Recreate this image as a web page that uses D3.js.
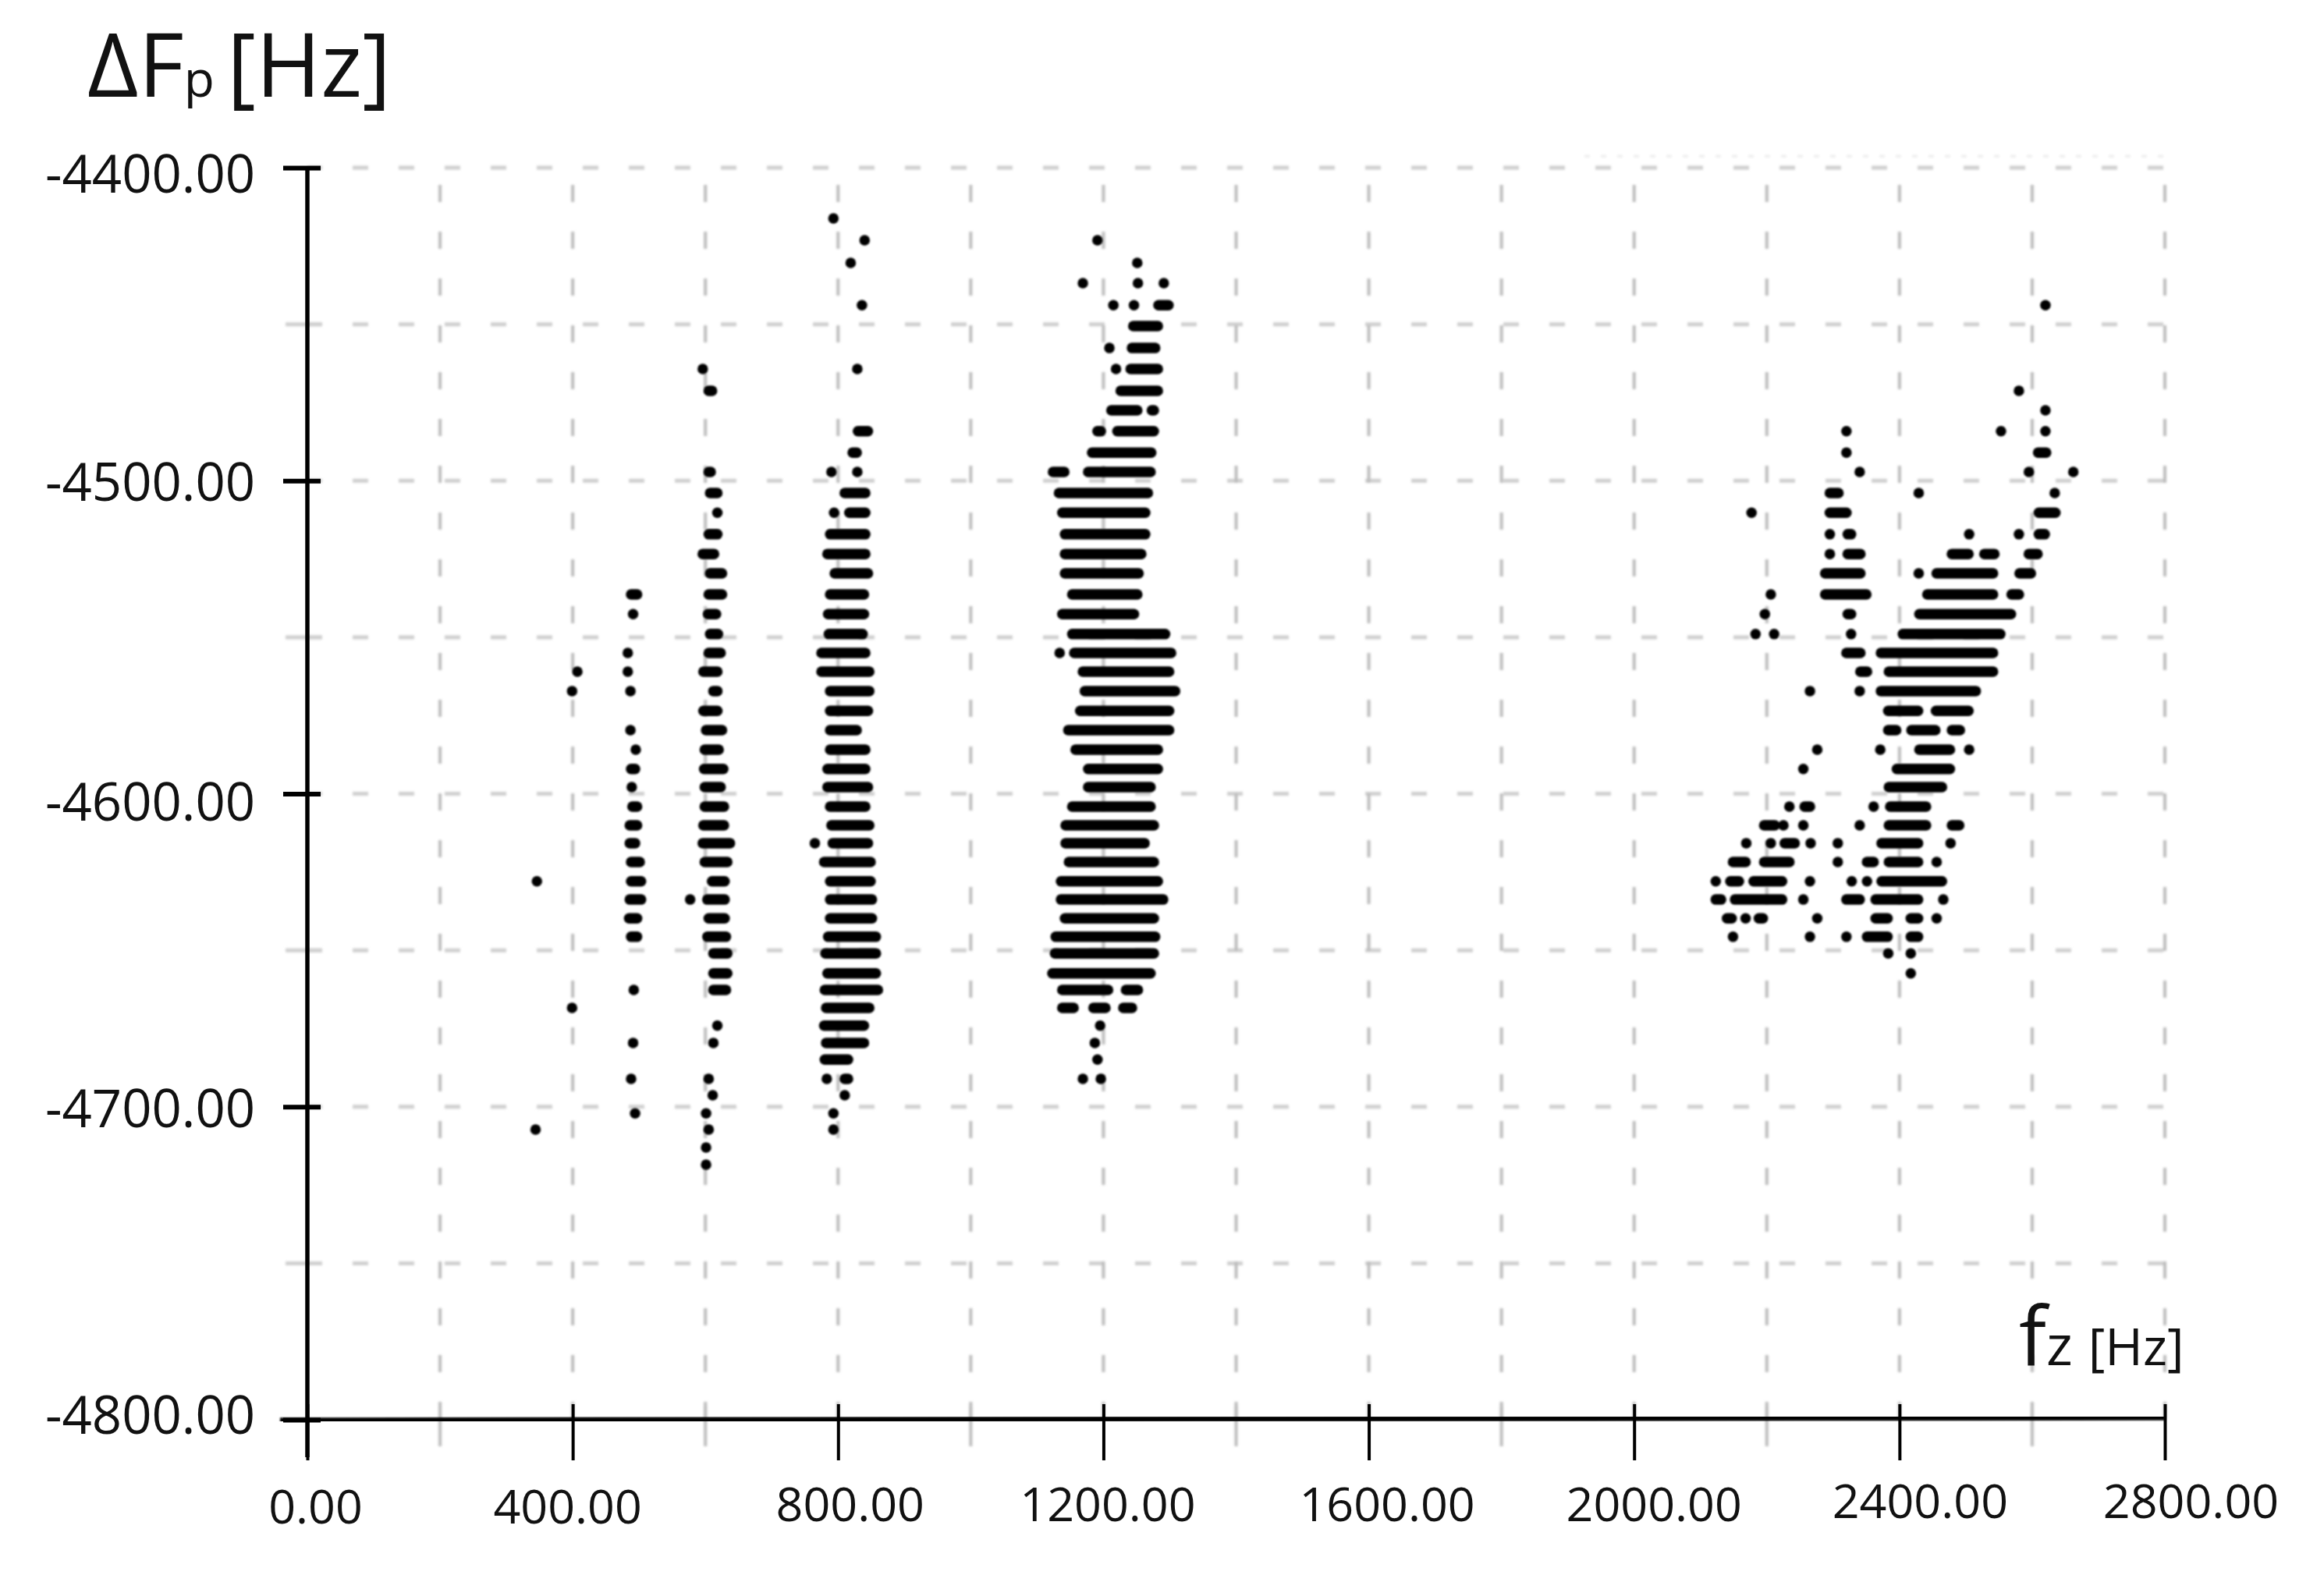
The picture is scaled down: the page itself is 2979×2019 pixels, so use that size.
<!DOCTYPE html>
<html>
<head>
<meta charset="utf-8">
<script src="https://cdnjs.cloudflare.com/ajax/libs/d3/7.8.5/d3.min.js"></script>
<style>
  html, body { margin: 0; padding: 0; background: #fff; }
  text { font-family: "Open Sans", sans-serif; fill: #111; }
</style>
</head>
<body>
<svg class="chart"></svg>
<script>
var width = 2979;
var height = 2019;

//tick values
var xTicks = [0, 400, 800, 1200, 1600, 2000, 2400, 2800];
var xMinor = [200, 600, 1000, 1400, 1800, 2200, 2600];
var yTicks = [-4400, -4500, -4600, -4700, -4800];
var yMinor = [-4450, -4550, -4650, -4750];

// each row: [delta Fp, run, run, ...], a run is [from, to] in fz or [fz] for a lone dot
var col350 = [
  [-4561.0, [407]], [-4567.2, [399]], [-4628.0, [346]], [-4668.4, [399]], [-4707.3, [344]]
];

var col490 = [
  [-4536.3, [488, 497]], [-4542.6, [491]], [-4555.0, [483]], [-4561.0, [483]], [-4567.2, [487]],
  [-4579.7, [487]], [-4585.9, [495]], [-4592.1, [488, 494]], [-4597.9, [489]], [-4604.1, [490, 497]],
  [-4610.1, [486, 497]], [-4615.8, [486, 494]], [-4621.8, [488, 501]], [-4628.0, [488, 503]],
  [-4633.8, [486, 503]], [-4639.8, [485, 497]], [-4645.7, [488, 497]], [-4662.7, [492]],
  [-4679.6, [491]], [-4691.1, [488]], [-4702.1, [494]]
];

var col600 = [
  [-4464.3, [596]], [-4471.3, [605, 610]], [-4497.2, [605, 608]], [-4503.9, [607, 618]], [-4510.2, [618]],
  [-4517.1, [605, 618]], [-4523.4, [596, 613]], [-4529.6, [607, 625]], [-4536.3, [605, 625]],
  [-4542.6, [604, 616]], [-4549.0, [607, 619]], [-4555.0, [605, 623]], [-4561.0, [597, 618]],
  [-4567.2, [612, 618]], [-4573.5, [597, 618]], [-4579.7, [601, 625]], [-4585.9, [599, 620]],
  [-4592.1, [598, 627]], [-4597.9, [599, 623]], [-4604.1, [599, 628]], [-4610.1, [597, 628]],
  [-4615.8, [596, 637]], [-4621.8, [599, 633]], [-4628.0, [610, 629]], [-4633.8, [577], [603, 629]],
  [-4639.8, [605, 629]], [-4645.7, [603, 631]], [-4651.0, [612, 633]], [-4657.4, [612, 633]],
  [-4662.7, [612, 631]], [-4674.1, [618]], [-4679.6, [612]], [-4691.1, [605]], [-4696.3, [611]],
  [-4702.1, [601]], [-4707.3, [605]], [-4713.0, [601]], [-4718.5, [601]]
];

var col800 = [
  [-4416.2, [793]], [-4423.2, [840]], [-4430.4, [819]], [-4443.9, [836]], [-4464.3, [829]],
  [-4484.2, [830, 845]], [-4491.0, [822, 828]], [-4497.2, [790], [829]], [-4503.9, [810, 841]],
  [-4510.2, [794], [817, 841]], [-4517.1, [788, 841]], [-4523.4, [784, 841]], [-4529.6, [795, 845]],
  [-4536.3, [788, 839]], [-4542.6, [785, 839]], [-4549.0, [786, 837]], [-4555.0, [775, 841]],
  [-4561.0, [775, 847]], [-4567.2, [788, 847]], [-4573.5, [788, 845]], [-4579.7, [788, 828]],
  [-4585.9, [788, 841]], [-4592.1, [784, 841]], [-4597.9, [784, 845]], [-4604.1, [788, 841]],
  [-4610.1, [790, 847]], [-4615.8, [765], [792, 845]], [-4621.8, [779, 849]], [-4628.0, [788, 849]],
  [-4633.8, [788, 851]], [-4639.8, [788, 851]], [-4645.7, [785, 857]], [-4651.0, [781, 857]],
  [-4657.4, [784, 857]], [-4662.7, [780, 860]], [-4668.4, [782, 847]], [-4674.1, [779, 839]],
  [-4679.6, [782, 839]], [-4684.9, [780, 815]], [-4691.1, [783], [810, 815]], [-4696.3, [810]],
  [-4702.1, [793]], [-4707.3, [793]]
];

var col1200 = [
  [-4423.2, [1191]], [-4430.4, [1251]], [-4436.9, [1169], [1252], [1291]],
  [-4443.9, [1215], [1246], [1283, 1298]], [-4450.6, [1245, 1282]], [-4457.6, [1209], [1243, 1278]],
  [-4464.3, [1219], [1241, 1282]], [-4471.3, [1226, 1282]], [-4477.5, [1212, 1251], [1273, 1276]],
  [-4484.2, [1191, 1196], [1221, 1276]], [-4491.0, [1183, 1272]], [-4497.2, [1124, 1141], [1177, 1271]],
  [-4503.9, [1133, 1267]], [-4510.2, [1138, 1263]], [-4517.1, [1142, 1263]], [-4523.4, [1142, 1257]],
  [-4529.6, [1142, 1253]], [-4536.3, [1153, 1251]], [-4542.6, [1138, 1246]], [-4549.0, [1153, 1293]],
  [-4555.0, [1134], [1156, 1302]], [-4561.0, [1169, 1299]], [-4567.2, [1172, 1308]], [-4573.5, [1165, 1299]],
  [-4579.7, [1147, 1299]], [-4585.9, [1158, 1282]], [-4592.1, [1177, 1282]], [-4597.9, [1177, 1271]],
  [-4604.1, [1153, 1271]], [-4610.1, [1143, 1276]], [-4615.8, [1143, 1262]], [-4621.8, [1148, 1276]],
  [-4628.0, [1136, 1282]], [-4633.8, [1136, 1290]], [-4639.8, [1142, 1276]], [-4645.7, [1128, 1278]],
  [-4651.0, [1127, 1276]], [-4657.4, [1123, 1271]], [-4662.7, [1138, 1207], [1234, 1252]],
  [-4668.4, [1138, 1155], [1185, 1203], [1230, 1243]], [-4674.1, [1195]], [-4679.6, [1187]],
  [-4684.9, [1191]], [-4691.1, [1169], [1196]]
];

var colHigh = [
  [-4443.9, [2620]], [-4471.3, [2580]], [-4477.5, [2620]], [-4484.2, [2320], [2553], [2620]],
  [-4491.0, [2320], [2609, 2621]], [-4497.2, [2340], [2595], [2662]], [-4503.9, [2295, 2308], [2429], [2634]],
  [-4510.2, [2177], [2295, 2320], [2610, 2635]], [-4517.1, [2295], [2322, 2327], [2505], [2580], [2610, 2619]],
  [-4523.4, [2295], [2322, 2341], [2479, 2504], [2528, 2543], [2595, 2608]],
  [-4529.6, [2288, 2341], [2429], [2456, 2541], [2581, 2598]],
  [-4536.3, [2206], [2288, 2350], [2442, 2541], [2569, 2580]],
  [-4542.6, [2197], [2322, 2327], [2430, 2568]],
  [-4549.0, [2183], [2211], [2327], [2405, 2552]],
  [-4555.0, [2320, 2341], [2372, 2541]],
  [-4561.0, [2341, 2351], [2384, 2541]],
  [-4567.2, [2265], [2340], [2372, 2515]],
  [-4573.5, [2383, 2428], [2455, 2504]],
  [-4579.7, [2383, 2395], [2418, 2454], [2479, 2491]],
  [-4585.9, [2276], [2371], [2430, 2476], [2505]],
  [-4592.1, [2255], [2396, 2476]],
  [-4597.9, [2384, 2464]],
  [-4604.1, [2234], [2257, 2265], [2361], [2386, 2440]],
  [-4610.1, [2196, 2212], [2225], [2255], [2340], [2384, 2440], [2479, 2490]],
  [-4615.8, [2169], [2206], [2227, 2242], [2266], [2307], [2373, 2428], [2477]],
  [-4621.8, [2149, 2168], [2196, 2234], [2307], [2351, 2361], [2384, 2428], [2456]],
  [-4628.0, [2123], [2145, 2158], [2180, 2223], [2265], [2328], [2351], [2373, 2464]],
  [-4633.8, [2123, 2131], [2152, 2223], [2255], [2320, 2340], [2364, 2428], [2466]],
  [-4639.8, [2140, 2147], [2168], [2188, 2194], [2276], [2364, 2382], [2417, 2428], [2456]],
  [-4645.7, [2149], [2265], [2320], [2351, 2382], [2417, 2428]],
  [-4651.0, [2383], [2417]],
  [-4657.4, [2417]]
];

var clusters = [col350, col490, col600, col800, col1200, colHigh];

//label placement, the picture's labels are not quite centred on their ticks
var xLabelDx = [10, -7, 15, 5, 23, 25, 26, 33];
var xLabelBase = [1953, 1953, 1950, 1950, 1950, 1950, 1946, 1946];
var yLabelDy = [7, 1, 10, 2, -7];

var x = d3.scaleLinear().domain([0, 2800]).range([394, 2775]);
var y = d3.scaleLinear().domain([-4800, -4400]).range([1820, 215]);

// plain hyphen for the negative labels, d3 would use a long minus
var labelFormat = function(d) { return d3.format(".2f")(d).replace("\u2212", "-"); };

var svg = d3.select(".chart")
    .attr("width", width)
    .attr("height", height)
    .style("display", "block");

var defs = svg.append("defs");
defs.append("filter").attr("id", "soft")
    .append("feGaussianBlur").attr("stdDeviation", 1.2);
defs.append("filter").attr("id", "softer")
    .append("feGaussianBlur").attr("stdDeviation", 1.6);

// dashed grid
var grid = svg.append("g").attr("filter", "url(#softer)");

grid.selectAll(".gridY")
    .data(yTicks.concat(yMinor).filter(function(d) { return d !== -4800; }))
    .enter().append("line")
    .attr("x1", x(0)).attr("x2", x(2800))
    .attr("y1", function(d) { return y(d); })
    .attr("y2", function(d) { return y(d); })
    .style("stroke", "#cfcfcf")
    .style("stroke-width", 5)
    .style("stroke-dasharray", "20 39")
    .style("stroke-dashoffset", 1);

// faint leftover dashes above the top grid line
grid.append("line")
    .attr("x1", x(1925)).attr("x2", x(2810))
    .attr("y1", y(-4396.3)).attr("y2", y(-4396.3))
    .style("stroke", "#ececec")
    .style("stroke-width", 3)
    .style("stroke-dasharray", "7 14");

grid.selectAll(".gridX")
    .data(xMinor.concat(xTicks.slice(1)))
    .enter().append("line")
    .attr("x1", function(d) { return x(d); })
    .attr("x2", function(d) { return x(d); })
    .attr("y1", y(-4400))
    .attr("y2", y(-4800) + 34)
    .style("stroke", "#bcbcbc")
    .style("stroke-width", 4)
    .style("stroke-dasharray", "22 38")
    .style("stroke-dashoffset", 38);

// grey minor ticks
grid.selectAll(".minorX")
    .data(xMinor)
    .enter().append("line")
    .attr("x1", function(d) { return x(d); })
    .attr("x2", function(d) { return x(d); })
    .attr("y1", y(-4800) - 18)
    .attr("y2", y(-4800) + 34)
    .style("stroke", "#bcbcbc")
    .style("stroke-width", 4);

grid.selectAll(".minorY")
    .data(yMinor)
    .enter().append("line")
    .attr("x1", x(0) - 28)
    .attr("x2", x(0) + 19)
    .attr("y1", function(d) { return y(d); })
    .attr("y2", function(d) { return y(d); })
    .style("stroke", "#cfcfcf")
    .style("stroke-width", 5);

//flatten the rows into runs
var runs = [];
clusters.forEach(function(rows) {
  rows.forEach(function(row) {
    row.slice(1).forEach(function(run) {
      runs.push({dF: row[0], from: run[0], to: run[run.length - 1]});
    });
  });
});

// dots that touch along a row merge into a bar
svg.append("g")
    .attr("filter", "url(#soft)")
    .selectAll("path")
    .data(runs)
    .enter().append("path")
    .attr("d", function(d) {
      return d3.line()([[x(d.from), y(d.dF)], [x(d.to) + 0.01, y(d.dF)]]);
    })
    .style("fill", "none")
    .style("stroke", "#000")
    .style("stroke-width", 13.5)
    .style("stroke-linecap", "round");

// axes
var xAxis = d3.axisBottom(x)
    .tickValues(xTicks)
    .tickFormat(labelFormat)
    .tickSize(52);

var gx = svg.append("g")
    .attr("class", "axis")
    .attr("transform", "translate(0," + y(-4800) + ")")
    .call(xAxis);

gx.select(".domain").remove();
gx.selectAll(".tick line")
    .attr("y1", -20)
    .style("stroke", "#000")
    .style("stroke-width", 4);
gx.selectAll(".tick text")
    .attr("x", function(d, i) { return xLabelDx[i]; })
    .attr("y", function(d, i) { return xLabelBase[i] - y(-4800); })
    .attr("dy", 0)
    .style("font-size", "61px")
    .style("font-family", '"Open Sans", sans-serif');

var yAxis = d3.axisLeft(y)
    .tickValues(yTicks)
    .tickFormat(labelFormat)
    .tickSize(0);

var gy = svg.append("g")
    .attr("class", "axis")
    .attr("transform", "translate(" + x(0) + ",0)")
    .call(yAxis);

gy.select(".domain").remove();
gy.selectAll(".tick line")
    .attr("x1", -31)
    .attr("x2", 17)
    .style("stroke", "#000")
    .style("stroke-width", 6);
gy.selectAll(".tick text")
    .attr("x", -67)
    .attr("y", function(d, i) { return yLabelDy[i] + 24; })
    .attr("dy", 0)
    .style("font-size", "67px")
    .style("font-family", '"Open Sans", sans-serif');

svg.append("line")
    .attr("x1", x(0)).attr("x2", x(0))
    .attr("y1", y(-4400)).attr("y2", y(-4800) + 48)
    .style("stroke", "#000")
    .style("stroke-width", 5.5);

// the horizontal axis leans up a little towards the right in the picture
svg.append("line")
    .attr("x1", x(0) - 35).attr("x2", x(2800))
    .attr("y1", y(-4800) + 1).attr("y2", y(-4800) - 3)
    .attr("filter", "url(#soft)")
    .style("stroke", "#000")
    .style("stroke-width", 7.5);

// axis titles
var yTitle = svg.append("text")
    .attr("x", 112)
    .attr("y", 124)
    .style("font-size", "113px");
yTitle.append("tspan").text("ΔF");
yTitle.append("tspan").style("font-size", "64px").text("p");
yTitle.append("tspan").attr("dx", 16).text("[Hz]");

var xTitle = svg.append("text")
    .attr("x", 2588)
    .attr("y", 1750)
    .style("font-size", "104px");
xTitle.append("tspan").text("f");
xTitle.append("tspan").style("font-size", "72px").text("z");
xTitle.append("tspan").attr("dx", 20).style("font-size", "66px").text("[Hz]");
</script>
</body>
</html>
